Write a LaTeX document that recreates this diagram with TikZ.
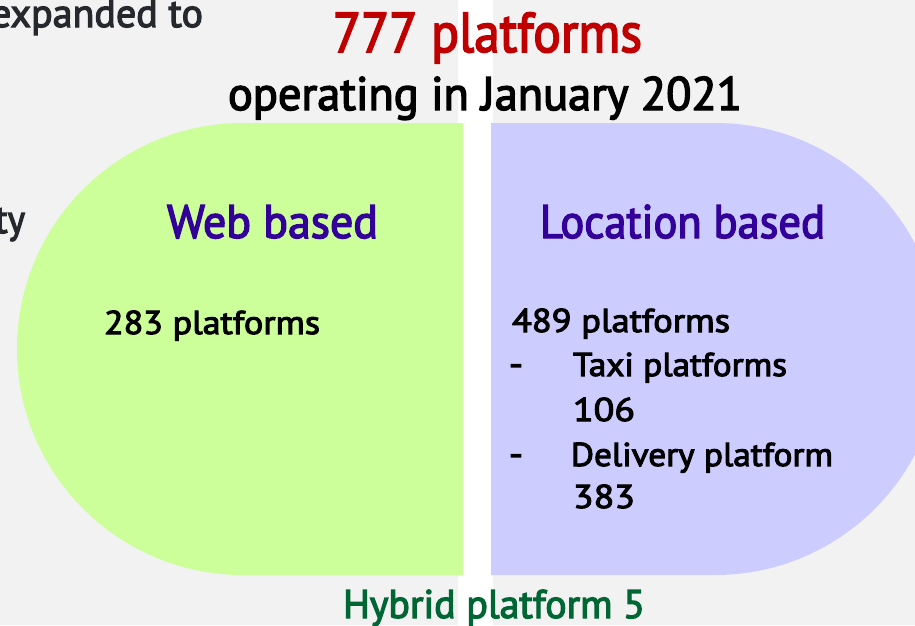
\documentclass[tikz,border=0pt]{standalone}
\usepackage{fontspec}
\setmainfont{PT Sans}[BoldFont=PT Sans, BoldFeatures={FakeBold=3}]
\usepackage{graphicx}
\definecolor{bg}{HTML}{F2F2F2}
\definecolor{webfill}{HTML}{CCFF99}
\definecolor{locfill}{HTML}{CCCCFF}
\definecolor{headblue}{HTML}{330099}
\definecolor{redt}{HTML}{C00000}
\definecolor{greent}{HTML}{006633}
\definecolor{greyt}{HTML}{25282C}
\newcommand{\fitw}[3]{\resizebox{#1pt}{\height}{\fontsize{#2}{#2}\selectfont\bfseries #3}}
\tikzset{
  txt/.style={inner sep=0pt, outer sep=0pt},
  lbl/.style={txt, anchor=base west},
  ctr/.style={txt, anchor=base},
}
\begin{document}
\begin{tikzpicture}[x=1pt,y=-1pt]
\useasboundingbox (0,0) rectangle (915,625);
\clip (0,0) rectangle (915,625);
\fill[bg] (0,0) rectangle (915,625);
\fill[white] (458,0) rectangle (493,625);
% shapes
\fill[webfill] (463,123) -- (243,123) arc[start angle=270, end angle=90, radius=226] -- (463,575) -- cycle;
\fill[locfill] (491,123) -- (715,123) arc[start angle=-90, end angle=90, radius=226] -- (491,575) -- cycle;
% texts
\node[txt, anchor=base east, text=greyt] (exp) at (203,27) {\fitw{212}{40}{expanded to}};
\node[txt, anchor=base east, text=greyt] (ty) at (25,233) {\fitw{30}{40}{ty}};
\node[ctr, text=redt] (total) at (487.5,52) {\fitw{309}{56}{777 platforms}};
\node[ctr, text=black] (oper) at (485,110) {\fitw{514}{47}{operating in January 2021}};
\node[ctr, text=headblue] (web) at (272.5,238) {\fitw{211}{47}{Web based}};
\node[ctr, text=headblue] (loc) at (682.5,238) {\fitw{285}{47}{Location based}};
\node[lbl] (w283) at (104,334) {\fitw{216}{33}{283 platforms}};
\node[lbl] (l489) at (512,332) {\fitw{218}{33}{489 platforms}};
\node[lbl] (d1) at (509,376) {\fitw{14}{36}{-}};
\node[lbl] (taxi) at (573,376) {\fitw{214}{33}{Taxi platforms}};
\node[lbl] (n106) at (573,421) {\fitw{62}{33}{106}};
\node[lbl] (d2) at (509,466) {\fitw{14}{36}{-}};
\node[lbl] (deliv) at (571,466) {\fitw{262}{33}{Delivery platform}};
\node[lbl] (n383) at (573,508) {\fitw{62}{33}{383}};
\node[ctr, text=greent] (hyb) at (494,618) {\fitw{302}{40}{Hybrid platform 5}};
\end{tikzpicture}
\end{document}
